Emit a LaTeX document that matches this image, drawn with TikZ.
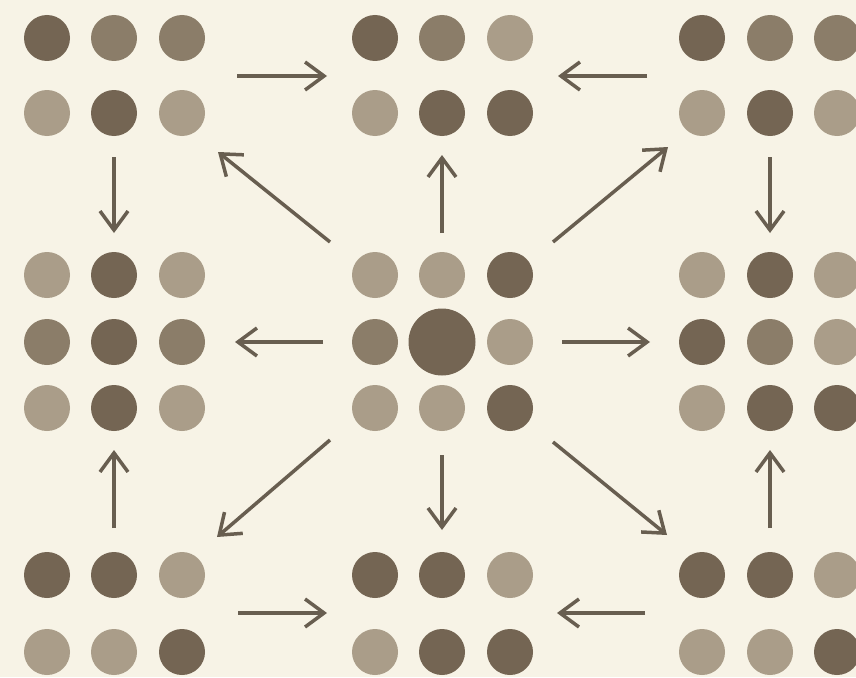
\documentclass[tikz,border=0pt]{standalone}
\usetikzlibrary{arrows.meta}
\definecolor{bg}{RGB}{247,243,230}
\definecolor{dk}{RGB}{116,101,83}
\definecolor{md}{RGB}{139,125,105}
\definecolor{lt}{RGB}{170,157,137}
\definecolor{ar}{RGB}{104,94,80}
\tikzset{
  dot/.style={circle, inner sep=0pt, minimum size=46pt, draw=none},
  bigdot/.style={circle, inner sep=0pt, minimum size=67pt, draw=none, fill=dk},
  arr/.style={draw=ar, line width=3.5pt, -{Straight Barb[length=19pt,width=28pt,line width=3.5pt]}}
}
\begin{document}
\begin{tikzpicture}[x=1pt,y=-1pt]
\fill[bg] (0,0) rectangle (856,677);
\useasboundingbox (0,0) rectangle (856,677);
% top-left group
\node[dot,fill=dk] (tla) at (47,38) {};
\node[dot,fill=md] (tlb) at (114,38) {};
\node[dot,fill=md] (tlc) at (182,38) {};
\node[dot,fill=lt] (tld) at (47,113) {};
\node[dot,fill=dk] (tle) at (114,113) {};
\node[dot,fill=lt] (tlf) at (182,113) {};
% top-middle group
\node[dot,fill=dk] (tma) at (375,38) {};
\node[dot,fill=md] (tmb) at (442,38) {};
\node[dot,fill=lt] (tmc) at (510,38) {};
\node[dot,fill=lt] (tmd) at (375,113) {};
\node[dot,fill=dk] (tme) at (442,113) {};
\node[dot,fill=dk] (tmf) at (510,113) {};
% top-right group
\node[dot,fill=dk] (tra) at (702,38) {};
\node[dot,fill=md] (trb) at (770,38) {};
\node[dot,fill=md] (trc) at (837,38) {};
\node[dot,fill=lt] (trd) at (702,113) {};
\node[dot,fill=dk] (tre) at (770,113) {};
\node[dot,fill=lt] (trf) at (837,113) {};
% middle-left group
\node[dot,fill=lt] (mla) at (47,275) {};
\node[dot,fill=dk] (mlb) at (114,275) {};
\node[dot,fill=lt] (mlc) at (182,275) {};
\node[dot,fill=md] (mld) at (47,342) {};
\node[dot,fill=dk] (mle) at (114,342) {};
\node[dot,fill=md] (mlf) at (182,342) {};
\node[dot,fill=lt] (mlg) at (47,408) {};
\node[dot,fill=dk] (mlh) at (114,408) {};
\node[dot,fill=lt] (mli) at (182,408) {};
% centre group
\node[dot,fill=lt] (cca) at (375,275) {};
\node[dot,fill=lt] (ccb) at (442,275) {};
\node[dot,fill=dk] (ccc) at (510,275) {};
\node[dot,fill=md] (ccd) at (375,342) {};
\node[bigdot] (cce) at (442,342) {};
\node[dot,fill=lt] (ccf) at (510,342) {};
\node[dot,fill=lt] (ccg) at (375,408) {};
\node[dot,fill=lt] (cch) at (442,408) {};
\node[dot,fill=dk] (cci) at (510,408) {};
% middle-right group
\node[dot,fill=lt] (mra) at (702,275) {};
\node[dot,fill=dk] (mrb) at (770,275) {};
\node[dot,fill=lt] (mrc) at (837,275) {};
\node[dot,fill=dk] (mrd) at (702,342) {};
\node[dot,fill=md] (mre) at (770,342) {};
\node[dot,fill=lt] (mrf) at (837,342) {};
\node[dot,fill=lt] (mrg) at (702,408) {};
\node[dot,fill=dk] (mrh) at (770,408) {};
\node[dot,fill=dk] (mri) at (837,408) {};
% bottom-left group
\node[dot,fill=dk] (bla) at (47,575) {};
\node[dot,fill=dk] (blb) at (114,575) {};
\node[dot,fill=lt] (blc) at (182,575) {};
\node[dot,fill=lt] (bld) at (47,652) {};
\node[dot,fill=lt] (ble) at (114,652) {};
\node[dot,fill=dk] (blf) at (182,652) {};
% bottom-middle group
\node[dot,fill=dk] (bma) at (375,575) {};
\node[dot,fill=dk] (bmb) at (442,575) {};
\node[dot,fill=lt] (bmc) at (510,575) {};
\node[dot,fill=lt] (bmd) at (375,652) {};
\node[dot,fill=dk] (bme) at (442,652) {};
\node[dot,fill=dk] (bmf) at (510,652) {};
% bottom-right group
\node[dot,fill=dk] (bra) at (702,575) {};
\node[dot,fill=dk] (brb) at (770,575) {};
\node[dot,fill=lt] (brc) at (837,575) {};
\node[dot,fill=lt] (brd) at (702,652) {};
\node[dot,fill=lt] (bre) at (770,652) {};
\node[dot,fill=dk] (brf) at (837,652) {};
% arrow end points
\coordinate (a1s) at (237,76);  \coordinate (a1e) at (327,76);
\coordinate (a2s) at (647,76);  \coordinate (a2e) at (558,76);
\coordinate (a3s) at (114,157); \coordinate (a3e) at (114,233);
\coordinate (a4s) at (770,157); \coordinate (a4e) at (770,233);
\coordinate (a5s) at (330,242); \coordinate (a5e) at (218,152);
\coordinate (a6s) at (442,233); \coordinate (a6e) at (442,155);
\coordinate (a7s) at (553,242); \coordinate (a7e) at (668,147);
\coordinate (a8s) at (323,342); \coordinate (a8e) at (235,342);
\coordinate (a9s) at (562,342); \coordinate (a9e) at (650,342);
\coordinate (b1s) at (330,440); \coordinate (b1e) at (217,537);
\coordinate (b2s) at (442,455); \coordinate (b2e) at (442,530);
\coordinate (b3s) at (553,442); \coordinate (b3e) at (667,535);
\coordinate (b4s) at (114,528); \coordinate (b4e) at (114,450);
\coordinate (b5s) at (770,528); \coordinate (b5e) at (770,450);
\coordinate (b6s) at (238,613); \coordinate (b6e) at (327,613);
\coordinate (b7s) at (645,613); \coordinate (b7e) at (557,613);
\foreach \p in {a1,a2,a3,a4,a5,a6,a7,a8,a9,b1,b2,b3,b4,b5,b6,b7}
  \draw[arr] (\p s) -- (\p e);
\end{tikzpicture}
\end{document}
